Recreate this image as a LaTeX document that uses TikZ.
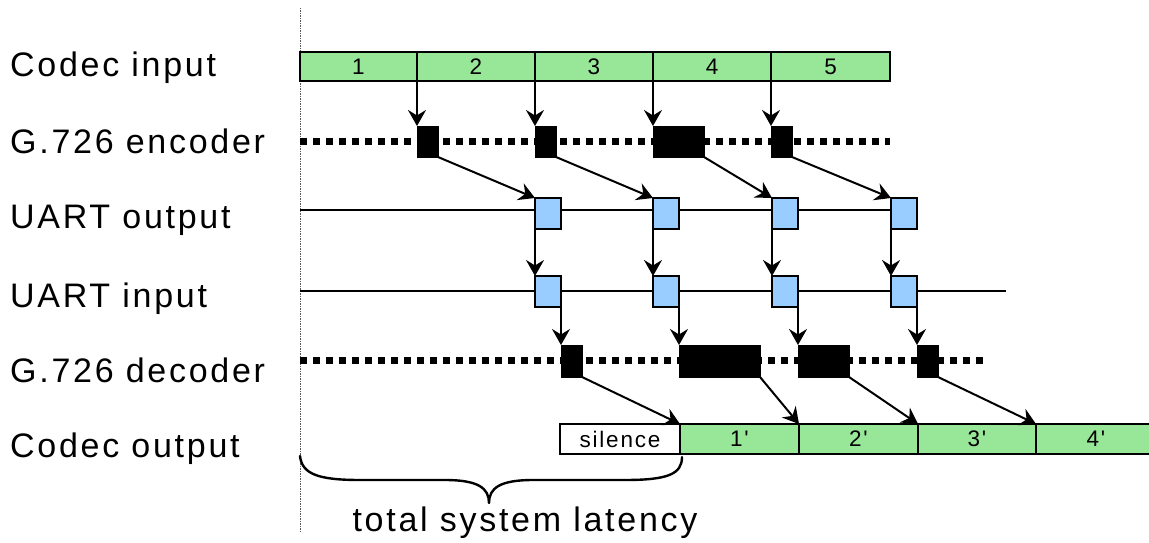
\documentclass[tikz,border=0pt]{standalone}
\usepackage{fontspec}
\setmainfont{Liberation Sans}
\newfontfamily\lblfont[LetterSpace=8]{Liberation Sans}
\usetikzlibrary{arrows.meta}
\definecolor{cgreen}{RGB}{152,230,152}
\definecolor{cblue}{RGB}{153,204,255}
\tikzset{
  lbl/.style={anchor=base west, inner sep=0pt, font=\lblfont\fontsize{34}{40}\selectfont},
  frame/.style={draw=black, line width=2.4pt, outer sep=0pt, inner sep=0pt, anchor=north west, font=\lblfont\fontsize{22.5}{26}\selectfont},
  gbox/.style={frame, fill=cgreen},
  wbox/.style={frame, fill=white},
  ubox/.style={frame, fill=cblue, minimum width=26pt, minimum height=31pt, line width=2.2pt},
  blk/.style={fill=black, draw=black, line width=0.5pt, outer sep=0pt, inner sep=0pt, anchor=north west, minimum height=31pt},
  arr/.style={-{Stealth[length=16pt,width=18pt,inset=5.5pt]}, line width=2pt},
  thin/.style={line width=2pt},
  dots/.style={line width=7pt, dash pattern=on 7pt off 6pt},
}
\begin{document}
\begin{tikzpicture}[x=1pt,y=-1pt]
\useasboundingbox (0,0) rectangle (1149,543);
% vertical reference line
\coordinate (vt) at (300,8);
\coordinate (vb) at (300,533);
\draw[gray!70!black, line width=1pt, dash pattern=on 1.5pt off 1pt] (vt) -- (vb);

% labels
\node[lbl] (l1) at (10,77) {Codec input};
\node[lbl] (l2) at (10,153) {G.726 encoder};
\node[lbl] (l3) at (10,228) {UART output};
\node[lbl] (l4) at (10,307) {UART input};
\node[lbl] (l5) at (10,382) {G.726 decoder};
\node[lbl] (l6) at (10,457) {Codec output};

% timeline lines
\coordinate (encL) at (300,141.5);
\coordinate (encR) at (890,141.5);
\draw[dots] (encL) -- (encR);
\coordinate (uoL) at (300,210);
\coordinate (uoR) at (891,210);
\draw[thin] (uoL) -- (uoR);
\coordinate (uiL) at (300,291);
\coordinate (uiR) at (1006,291);
\draw[thin] (uiL) -- (uiR);
\coordinate (decL) at (300,360.5);
\coordinate (decR) at (987,360.5);
\draw[dots] (decL) -- (decR);

% codec input
\node[gbox, minimum width=117pt, minimum height=29pt] (ci1) at (300,52) {1};
\node[gbox, minimum width=118pt, minimum height=29pt] (ci2) at (417,52) {2};
\node[gbox, minimum width=118pt, minimum height=29pt] (ci3) at (535,52) {3};
\node[gbox, minimum width=118pt, minimum height=29pt] (ci4) at (653,52) {4};
\node[gbox, minimum width=119pt, minimum height=29pt] (ci5) at (771,52) {5};

% encoder blocks
\node[blk, minimum width=21pt] (e1) at (417,126) {};
\node[blk, minimum width=21pt] (e2) at (535,126) {};
\node[blk, minimum width=51pt] (e3) at (653,126) {};
\node[blk, minimum width=21pt] (e4) at (771,126) {};

% UART output
\node[ubox] (uo1) at (535,198) {};
\node[ubox] (uo2) at (653,198) {};
\node[ubox] (uo3) at (772,198) {};
\node[ubox] (uo4) at (891,198) {};

% UART input
\node[ubox] (ui1) at (535,276) {};
\node[ubox] (ui2) at (653,276) {};
\node[ubox] (ui3) at (772,276) {};
\node[ubox] (ui4) at (891,276) {};

% decoder blocks
\node[blk, minimum width=21pt, minimum height=32pt] (d1) at (561,345) {};
\node[blk, minimum width=81pt, minimum height=32pt] (d2) at (679,345) {};
\node[blk, minimum width=51pt, minimum height=32pt] (d3) at (798,345) {};
\node[blk, minimum width=21pt, minimum height=32pt] (d4) at (917,345) {};

% codec output
\node[wbox, minimum width=120pt, minimum height=30pt] (sil) at (560,424) {silence};
\node[gbox, minimum width=119pt, minimum height=30pt] (co1) at (680,424) {1'};
\node[gbox, minimum width=119pt, minimum height=30pt] (co2) at (799,424) {2'};
\node[gbox, minimum width=118pt, minimum height=30pt] (co3) at (918,424) {3'};
\node[gbox, minimum width=120pt, minimum height=30pt] (co4) at (1036,424) {4'};

% arrows codec input -> encoder
\draw[arr] (ci1.south east) -- (e1.north west);
\draw[arr] (ci2.south east) -- (e2.north west);
\draw[arr] (ci3.south east) -- (e3.north west);
\draw[arr] (ci4.south east) -- (e4.north west);
% encoder -> UART output
\draw[arr] (e1.south east) -- (uo1.north west);
\draw[arr] (e2.south east) -- (uo2.north west);
\draw[arr] (e3.south east) -- (uo3.north west);
\draw[arr] (e4.south east) -- (uo4.north west);
% UART output -> UART input
\draw[arr] (uo1.south west) -- (ui1.north west);
\draw[arr] (uo2.south west) -- (ui2.north west);
\draw[arr] (uo3.south west) -- (ui3.north west);
\draw[arr] (uo4.south west) -- (ui4.north west);
% UART input -> decoder
\draw[arr] (ui1.south east) -- (d1.north west);
\draw[arr] (ui2.south east) -- (d2.north west);
\draw[arr] (ui3.south east) -- (d3.north west);
\draw[arr] (ui4.south east) -- (d4.north west);
% decoder -> codec output
\draw[arr] (d1.south east) -- (sil.north east);
\draw[arr] (d2.south east) -- (co1.north east);
\draw[arr] (d3.south east) -- (co2.north east);
\draw[arr] (d4.south east) -- (co3.north east);

% brace
\draw[line width=2.4pt, line cap=round, line join=round]
  (300,456) .. controls (302,474) and (318,480) .. (360,480)
  -- (445,480) .. controls (478,480) and (489,488) .. (489,503)
  .. controls (489,488) and (500,480) .. (533,480)
  -- (625,480) .. controls (668,480) and (682,474) .. (682,457);
\node[lbl, anchor=base] (lat) at (525,531) {total system latency};
\end{tikzpicture}
\end{document}
